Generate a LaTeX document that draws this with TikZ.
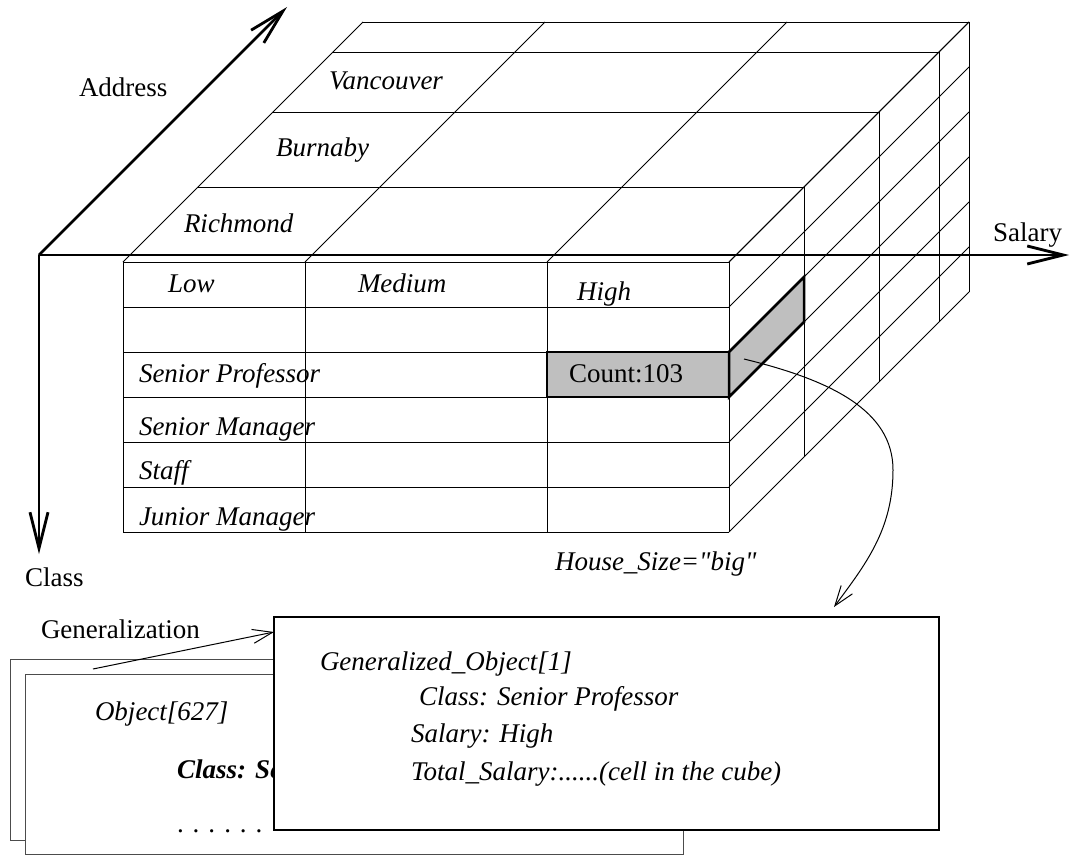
\documentclass[tikz,border=0pt]{standalone}
\usepackage{fontspec}
\setmainfont{Liberation Serif}[Ligatures=TeXOff]
\usetikzlibrary{arrows.meta}
\begin{document}
\begin{tikzpicture}[x=1pt,y=-1pt,
  every node/.style={inner sep=0pt, outer sep=0pt},
  txt/.style={font=\fontsize{27}{32}\selectfont, anchor=base west},
  itx/.style={font=\fontsize{27}{32}\selectfont\itshape, anchor=base west},
  bitx/.style={font=\fontsize{27}{32}\selectfont\bfseries\itshape, anchor=base west},
  gridline/.style={line width=0.9pt},
  axisline/.style={line width=2.8pt, -{Straight Barb[length=36pt,width=18pt]}},
  hl/.style={line width=2.5pt, fill=black!25},
  ptr/.style={line width=1pt, -{Straight Barb[length=20pt,width=14pt]}},
  objbox/.style={draw=black!70, line width=1pt, fill=white, anchor=north west},
  genbox/.style={draw=black, line width=2.6pt, fill=white, anchor=north west},
]
\useasboundingbox (0,0) rectangle (1070,856);

% ---- cube: front face
\foreach \k in {0,...,6} \draw[gridline] (123,{262+45*\k}) -- (729,{262+45*\k});
\foreach \x in {123,305,547,729} \draw[gridline] (\x,262) -- (\x,532);
% ---- depth slices (top edges and right edges)
\foreach \d in {75,150,210,240} {
  \draw[gridline] ({123+\d},{262-\d}) -- ({729+\d},{262-\d});
  \draw[gridline] ({729+\d},{262-\d}) -- ({729+\d},{532-\d});
}
% ---- top face diagonals
\foreach \x in {123,305,547,729} \draw[gridline] (\x,262) -- ({\x+240},22);
% ---- right face diagonals
\foreach \k in {0,...,6} \draw[gridline] (729,{262+45*\k}) -- (969,{22+45*\k});

% ---- highlighted cell
\draw[hl] (547,352) rectangle (729,397);
\draw[hl] (729,352) -- (804,277) -- (804,322) -- (729,397) -- cycle;

% ---- axes
\coordinate (O) at (39,255);
\coordinate (addrEnd) at (287,7);
\coordinate (salEnd) at (1069,255);
\coordinate (clsEnd) at (39,554);
\draw[axisline] (O) -- (addrEnd);
\draw[axisline] (O) -- (salEnd);
\draw[axisline] (O) -- (clsEnd);

% ---- axis labels
\node[txt] (tAddress) at (79,97) {Address};
\node[txt] (tSalary) at (993,241) {Salary};
\node[txt] (tClass) at (25,586) {Class};

% ---- cube labels
\node[itx] (tVan) at (329,90) {Vancouver};
\node[itx] (tBur) at (276,157) {Burnaby};
\node[itx] (tRich) at (184,232) {Richmond};
\node[itx] (tLow) at (168,292) {Low};
\node[itx] (tMed) at (358,292) {Medium};
\node[itx] (tHigh) at (577,300) {High};
\node[itx] (tSP) at (139,382) {Senior Professor};
\node[itx] (tSM) at (139,435) {Senior Manager};
\node[itx] (tStaff) at (139,479) {Staff};
\node[itx] (tJM) at (139,525) {Junior Manager};
\node[txt] (tCount) at (569,382) {Count:103};
\node[itx] (tHouse) at (555,570) {House\_Size="big"};

% ---- object boxes
\node[objbox, minimum width=658pt, minimum height=181pt] (objback) at (10,659) {};
\node[objbox, minimum width=658pt, minimum height=180.5pt] (objfront) at (25,674) {};
\node[itx] (tObj) at (95,720) {Object[627]};
\node[bitx] (tObjClass) at (177,778) {Class: Se};
\node[txt] (tDots) at (177,832) {. . . . . .};

% ---- generalized object box
\node[genbox, minimum width=665pt, minimum height=213pt] (bigbox) at (274,617) {};
\node[itx] (tGO) at (320,670) {Generalized\_Object[1]};
\node[itx] (tGOc) at (419,705) {Class: Senior Professor};
\node[itx] (tGOs) at (411,742) {Salary: High};
\node[itx] (tGOt) at (411,780) {Total\_Salary:......(cell in the cube)};

\node[txt] (tGen) at (41,638) {Generalization};

% ---- connectors
\coordinate (genStart) at (93,669);
\coordinate (genEnd) at (274,632);
\draw[ptr] (genStart) -- (genEnd);

\coordinate (cellPt) at (744,359);
\coordinate (curveEnd) at (834,607);
\draw[ptr] (cellPt) .. controls (830,380) and (893,410) .. (893,470)
  .. controls (893,530) and (865,565) .. (curveEnd);
\end{tikzpicture}
\end{document}
